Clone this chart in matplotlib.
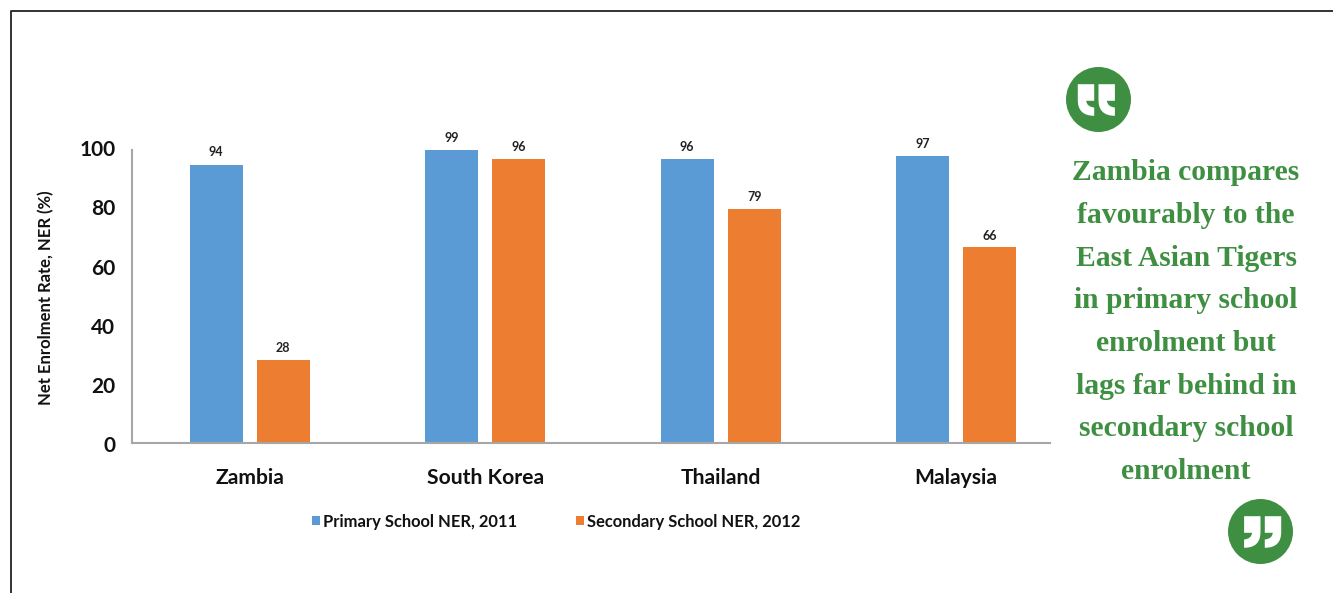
#!/usr/bin/env python3

import matplotlib
matplotlib.use("Agg")
import matplotlib.pyplot as plt
import numpy as np
from matplotlib.patches import Circle, PathPatch
from matplotlib.path import Path
from matplotlib.transforms import ScaledTranslation

W, H = 1333, 593

countries = ["Zambia", "South Korea", "Thailand", "Malaysia"]
primary_ner = [94, 99, 96, 97]
secondary_ner = [28, 96, 79, 66]
y_ticks = [0, 20, 40, 60, 80, 100]
series_names = ["Primary School NER, 2011", "Secondary School NER, 2012"]
quote_lines = [
    "Zambia compares",
    "favourably to the",
    "East Asian Tigers",
    "in primary school",
    "enrolment but",
    "lags far behind in",
    "secondary school",
    "enrolment",
]

BLUE = "#5B9BD5"
ORANGE = "#ED7D31"
GREEN = "#3F8F42"
CHART_FONT = "Lato"

# Outline of one quote stroke, in pixels from the disc centre
STROKE_PTS = np.array([
    (-20.7, -15.3), (-4.3, -15.3), (-4.3, 1.3), (-12.3, 1.3), (-11.7, 7.3),
    (-4.3, 8), (-4.3, 16.3), (-20.7, 16.3), (-20.7, 0.7), (-20.7, -15.3),
])
STROKE_CODES = [Path.MOVETO, Path.LINETO, Path.LINETO, Path.LINETO,
                Path.CURVE3, Path.CURVE3, Path.LINETO, Path.CURVE3,
                Path.CURVE3, Path.CLOSEPOLY]


def px_axes(fig, left, top, right, bottom):
    """Axes rectangle from pixel edges measured from the top left corner."""
    return fig.add_axes(
        [left / W, 1 - bottom / H, (right - left) / W, (bottom - top) / H]
    )


def draw_quote_mark(ax, cx, cy, mirror):
    """Green disc with two white quote strokes, centred on a pixel position."""
    ax.add_patch(Circle((cx, cy), 32.5, color=GREEN, lw=0))
    for dx in (0, 20.7):
        pts = STROKE_PTS + (dx, 0)
        if mirror:
            pts = pts * (-1, 1)
        pts = pts + (cx, cy)
        ax.add_patch(PathPatch(Path(pts, STROKE_CODES), fc="white", lw=0))


fig = plt.figure(figsize=(W / 100, H / 100), dpi=100, facecolor="white")

# Pixel layer for the frame, the quote marks and the green text
bg = fig.add_axes([0, 0, 1, 1])
bg.set_xlim(0, W)
bg.set_ylim(H, 0)
bg.axis("off")
bg.plot([11, 11, W], [H, 11, 11], color="#222222", lw=1.3)
draw_quote_mark(bg, 1098.5, 99.5, False)
draw_quote_mark(bg, 1260.5, 531.5, True)
for i, line in enumerate(quote_lines):
    bg.text(1186, 173 + i * 42.6, line, color=GREEN, fontsize=21.3,
            family="Liberation Serif", weight="bold", ha="center",
            va="center")

# Bar chart
ax = px_axes(fig, 132, 147, 1050, 442.5)
x = np.arange(len(countries))
bar_w = 53 / 235.5
gap = 14 / 235.5
bars1 = ax.bar(x - (bar_w + gap) / 2, primary_ner, bar_w, color=BLUE,
               label=series_names[0])
bars2 = ax.bar(x + (bar_w + gap) / 2, secondary_ner, bar_w, color=ORANGE,
               label=series_names[1])
ax.bar_label(bars1, padding=4.5, fontsize=9, family=CHART_FONT, weight="bold",
             color="#222222")
ax.bar_label(bars2, padding=4, fontsize=9, family=CHART_FONT, weight="bold",
             color="#222222")

ax.set_xlim(-0.5, -0.5 + 918 / 235.5)
ax.set_ylim(0, 100)
ax.set_yticks(y_ticks)
ax.set_xticks(x)
ax.set_xticklabels(countries, fontsize=15.2, family=CHART_FONT, weight="bold",
                   color="#111111")
ax.set_yticklabels(y_ticks, fontsize=15, family=CHART_FONT, weight="bold",
                   color="#111111")
ax.tick_params(axis="both", length=0)
ax.tick_params(axis="x", pad=18)
ax.tick_params(axis="y", pad=12)
ax.set_ylabel("Net Enrolment Rate, NER (%)", fontsize=12, family=CHART_FONT,
              weight="bold", color="#111111")
ax.yaxis.set_label_coords(-78 / 918, 0.49)

# Tick labels sit slightly below the scale in the source
shift = ScaledTranslation(0, -1 / 72, fig.dpi_scale_trans)
for label in ax.get_yticklabels():
    label.set_transform(label.get_transform() + shift)

for side in ("top", "right"):
    ax.spines[side].set_visible(False)
for side in ("left", "bottom"):
    ax.spines[side].set_color("#A6A6A6")
    ax.spines[side].set_linewidth(1.5)
ax.spines["left"].set_bounds(0, 99)
ax.patch.set_alpha(0)

ax.legend(
    loc="upper left",
    bbox_to_anchor=(172 / 918, -0.213),
    ncol=2,
    frameon=False,
    handlelength=0.48,
    handleheight=0.48,
    handletextpad=0.17,
    columnspacing=3.55,
    borderpad=0,
    prop={"family": CHART_FONT, "weight": "bold", "size": 11.9},
    labelcolor="#111111",
)

fig.savefig("out.png", dpi=100, facecolor="white")
